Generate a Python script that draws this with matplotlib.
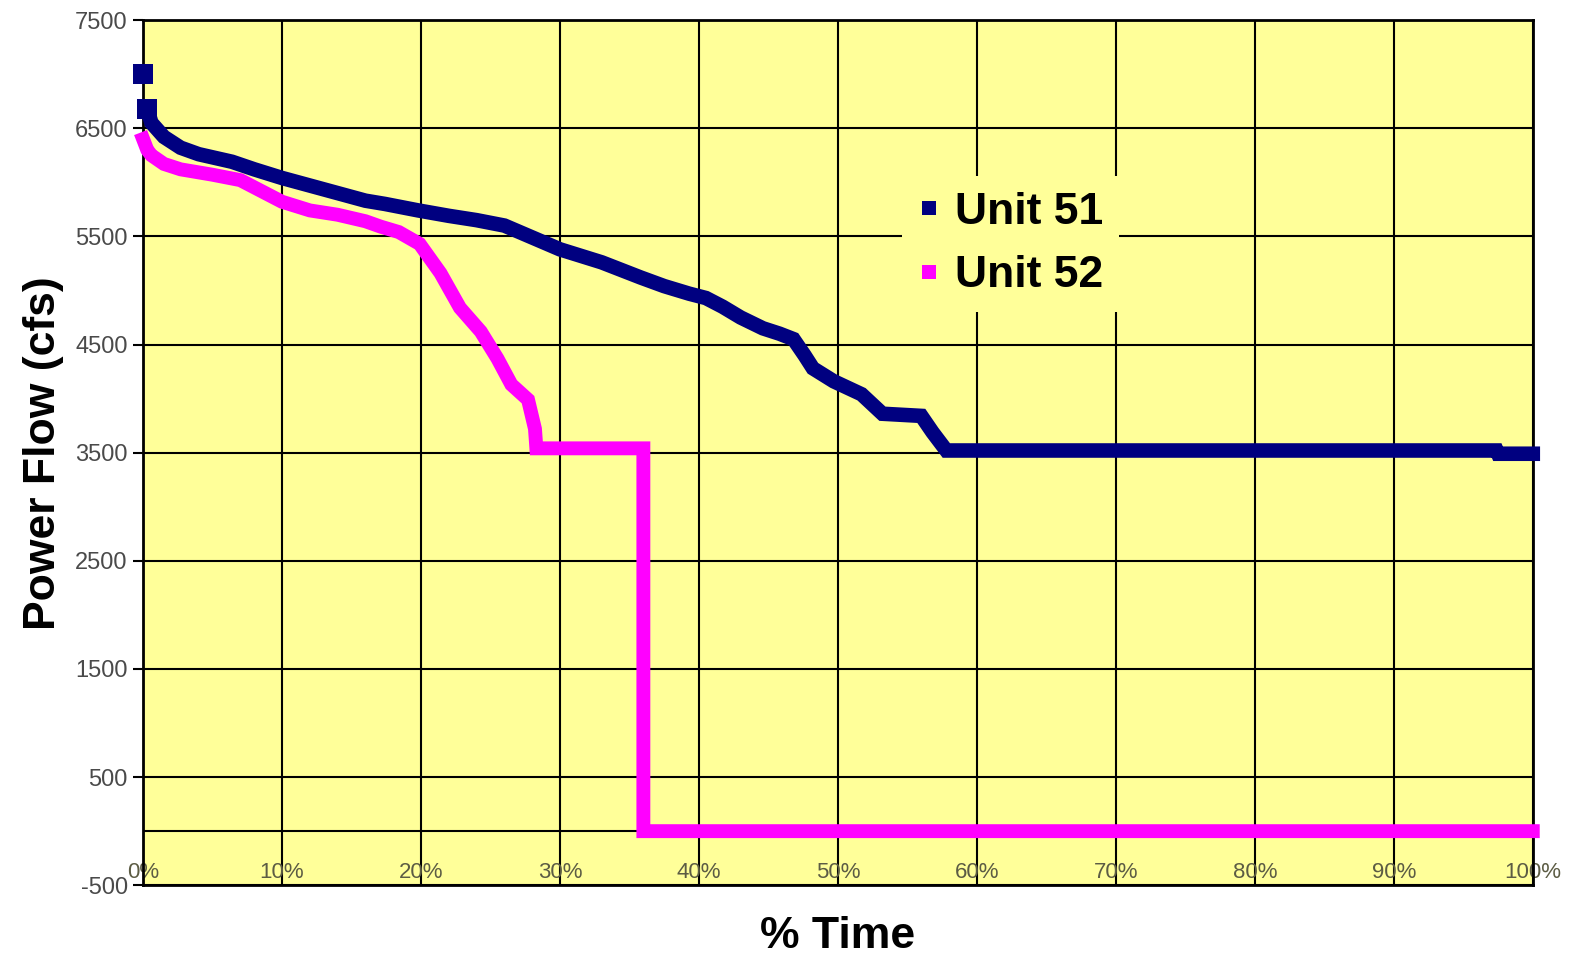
import numpy as np
import matplotlib
matplotlib.use("Agg")
import matplotlib.pyplot as plt
from matplotlib.lines import Line2D

plt.rcParams['font.family'] = ['Liberation Sans', 'DejaVu Sans']
plt.rcParams['axes.unicode_minus'] = False

# Curvas de duracion de caudal (porcentaje del tiempo vs caudal)
t51 = [0, 0.3, 0.6, 1.5, 2.7, 4, 6.4, 8, 10, 12, 14, 16, 17.4, 19.8, 22, 24, 26,
       28, 30, 33, 35.8, 37.5, 39.3, 40.5, 41.7, 43, 44.6, 45.8, 46.8, 47.6, 48.2,
       49.7, 51.7, 53.2, 56, 56.8, 57.8, 97.4, 97.5, 100]
q51 = [7000, 6680, 6550, 6420, 6320, 6260, 6190, 6120, 6040, 5970, 5900, 5830,
       5800, 5740, 5690, 5650, 5600, 5490, 5380, 5260, 5120, 5040, 4970, 4930,
       4850, 4750, 4650, 4600, 4550, 4400, 4280, 4160, 4040, 3860, 3840, 3690,
       3520, 3520, 3490, 3490]

t52 = [0, 0.3, 0.6, 1.5, 2.7, 5, 7, 8.2, 10, 12, 14, 16, 17.1, 18.4, 19.9, 21.4,
       22.8, 24.3, 25.5, 26.5, 27.7, 28.2, 28.3, 36.0, 36.0, 100]
q52 = [6400, 6300, 6250, 6170, 6120, 6070, 6020, 5940, 5820, 5740, 5700, 5640,
       5590, 5540, 5430, 5160, 4840, 4620, 4370, 4130, 3990, 3720, 3540, 3540,
       0, 0]

series = ['Unit 51', 'Unit 52']
colores = ['#000080', '#FF00FF']
yticks = np.arange(-500, 7501, 1000)
xticks = np.arange(0, 101, 10)

fig = plt.figure(figsize=(15.81, 9.57), dpi=100)
ax = fig.add_axes([0.0905, 0.075, 0.879, 0.904])
ax.set_facecolor('#FFFF99')

# primeros puntos como marcadores sueltos, el resto como linea gruesa
ax.plot(t51[:2], q51[:2], ls='none', marker='s', ms=14, mew=0,
        color=colores[0], zorder=3, clip_on=False)
ax.plot(t51[1:], q51[1:], color=colores[0], lw=10.5, solid_capstyle='projecting',
        solid_joinstyle='miter', zorder=3, clip_on=False)
ax.plot(t52, q52, color=colores[1], lw=10, solid_capstyle='projecting',
        solid_joinstyle='miter', zorder=3, clip_on=False)

ax.set_xlim(0, 100)
ax.set_ylim(-500, 7500)
ax.set_xticks(xticks)
ax.set_xticklabels([f'{v}%' for v in xticks])
ax.set_yticks(yticks)
ax.grid(True, color='black', lw=1.5)
ax.axhline(0, color='black', lw=1.5, zorder=1)
ax.set_axisbelow(True)
for s in ax.spines.values():
    s.set_linewidth(2)
    s.set_color('black')

ax.tick_params(axis='y', direction='out', length=7, width=1.5, pad=4,
               labelsize=17, labelcolor='#4a4a4a')
ax.tick_params(axis='x', length=0, pad=-17, labelsize=16, labelcolor='#5c5c44')

ax.set_ylabel('Power Flow (cfs)', fontsize=32, fontweight='bold', labelpad=8)
ax.set_xlabel('% Time', fontsize=32, fontweight='bold', labelpad=22)

handles = [Line2D([], [], ls='none', marker='s', ms=10, mew=0, color=c)
           for c in colores]
leg = ax.legend(handles, series, loc='upper left', bbox_to_anchor=(0.53, 0.845),
                prop={'weight': 'bold', 'size': 32},
                frameon=True, facecolor='#FFFF99', edgecolor='none', framealpha=1,
                handlelength=0.5, handletextpad=0.35, labelspacing=0.5,
                borderpad=0.35)
leg.get_frame().set_boxstyle('square', pad=0)

fig.savefig('out.png', dpi=100)
